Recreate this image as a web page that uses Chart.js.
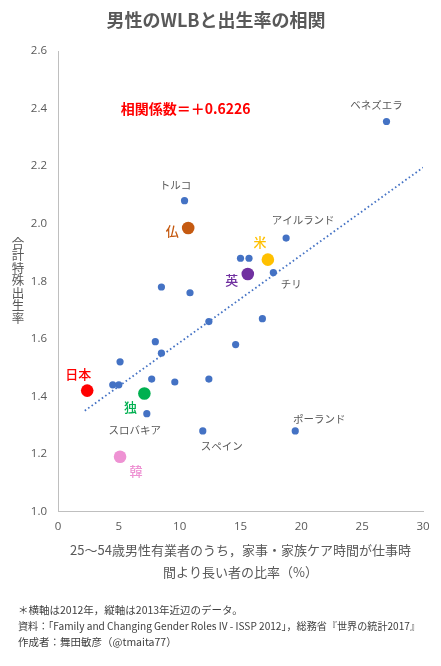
<!DOCTYPE html>
<html>
<head>
<meta charset="utf-8">
<script src="https://cdn.jsdelivr.net/npm/chart.js@4"></script>
<style>
  html, body { margin: 0; padding: 0; background: #fff; }
  #wrap { width: 441px; height: 666px; }
</style>
</head>
<body>
<div id="wrap"><canvas id="chart" width="441" height="666"></canvas></div>
<script>
// blue points: share of men whose housework/care time exceeds work time (%), total fertility rate
const otherNames = ["ベネズエラ", "トルコ", "アイルランド", "", "", "チリ", "", "", "", "",
                    "", "", "", "", "", "", "", "", "", "スロバキア", "スペイン", "ポーランド"];
const otherX = [27.0, 10.4, 18.75, 15.0, 15.7, 17.7, 8.5, 10.85, 12.4, 16.8,
                8.0, 14.6, 8.5, 5.1, 4.5, 5.0, 7.7, 9.6, 12.4, 7.3, 11.9, 19.5];
const otherY = [2.355, 2.08, 1.95, 1.88, 1.88, 1.83, 1.78, 1.76, 1.66, 1.67,
                1.59, 1.58, 1.55, 1.52, 1.44, 1.44, 1.46, 1.45, 1.46, 1.34, 1.28, 1.28];

// highlighted countries
const keyNames = ["日本", "仏", "米", "英", "独", "韓"];
const keyX = [2.4, 10.7, 17.25, 15.6, 7.1, 5.1];
const keyY = [1.42, 1.985, 1.875, 1.825, 1.41, 1.19];

// dotted trend line end points
const trendX = [2.2, 30];
const trendY = [1.35, 2.195];

const xTicks = [0, 5, 10, 15, 20, 25, 30];
const yTicks = [1.0, 1.2, 1.4, 1.6, 1.8, 2.0, 2.2, 2.4, 2.6];

const titleText = "男性のWLBと出生率の相関";
const corrText = "相関係数＝＋0.6226";
const yTitle = "合計特殊出生率";
const xTitle = ["25～54歳男性有業者のうち，家事・家族ケア時間が仕事時", "間より長い者の比率（%）"];
const notes = [
    "＊横軸は2012年，縦軸は2013年近辺のデータ。",
    "資料：「Family and Changing Gender Roles IV - ISSP 2012」，総務省『世界の統計2017』",
    "作成者：舞田敏彦（@tmaita77）"
];

// label styling (colour, offsets from point)
const keyColors = { "日本": "#FF0000", "仏": "#C55A11", "米": "#FFC000", "英": "#7030A0", "独": "#00B050", "韓": "#EE92D3" };
const labelOffsets = {
    "ベネズエラ": [-10, -16], "トルコ": [-9, -16], "アイルランド": [17, -18], "チリ": [18, 11],
    "スロバキア": [-12, 16], "スペイン": [19, 15], "ポーランド": [24, -12],
    "日本": [-9, -17], "仏": [-16, 3], "米": [-8, -18], "英": [-16, 6], "独": [-14, 14], "韓": [16, 14]
};

const JP = '"Noto Sans CJK JP", "Noto Sans", sans-serif';
const GREY = "#595959";

const toPts = (xs, ys) => xs.map((x, i) => ({ x: x, y: ys[i] }));

const textPlugin = {
    id: "texts",
    afterDatasetsDraw(chart) {
        const ctx = chart.ctx;
        const area = chart.chartArea;
        const sx = chart.scales.x, sy = chart.scales.y;
        ctx.save();
        ctx.textAlign = "center";
        ctx.textBaseline = "middle";

        // point labels
        const sets = [[0, otherNames], [1, keyNames]];
        sets.forEach(([di, names]) => {
            const meta = chart.getDatasetMeta(di);
            meta.data.forEach((pt, i) => {
                const name = names[i];
                if (!name) return;
                const off = labelOffsets[name] || [0, -14];
                if (di === 1) {
                    ctx.fillStyle = keyColors[name];
                    ctx.font = "500 13px " + JP;
                } else {
                    ctx.fillStyle = GREY;
                    ctx.font = "10.5px " + JP;
                }
                ctx.fillText(name, pt.x + off[0], pt.y + off[1]);
            });
        });

        // correlation
        ctx.textAlign = "left";
        ctx.fillStyle = "#FF0000";
        ctx.font = "bold 14px " + JP;
        ctx.fillText(corrText, sx.getPixelForValue(5.15), sy.getPixelForValue(2.4));

        // title
        ctx.textAlign = "center";
        ctx.fillStyle = GREY;
        ctx.font = "bold 18px " + JP;
        ctx.fillText(titleText, 216, 20);

        // y title, upright stacked characters
        ctx.font = "12.5px " + JP;
        const chars = Array.from(yTitle);
        chars.forEach((c, i) => ctx.fillText(c, 18, 243 + i * 12.5));

        // x title
        const cx = (area.left + area.right) / 2;
        ctx.font = "13px " + JP;
        ctx.fillText(xTitle[0], cx, 550);
        ctx.fillText(xTitle[1], cx, 572);

        // notes
        ctx.textAlign = "left";
        ctx.fillStyle = "#404040";
        ctx.font = "10.5px " + JP;
        notes.forEach((n, i) => ctx.fillText(n, 18, 610 + i * 16, 402));
        ctx.restore();
    }
};

new Chart(document.getElementById("chart"), {
    type: "scatter",
    data: {
        datasets: [
            {
                data: toPts(otherX, otherY),
                backgroundColor: "#4472C4",
                borderWidth: 0,
                pointRadius: 3.6,
                order: 1
            },
            {
                data: toPts(keyX, keyY),
                backgroundColor: keyNames.map(n => keyColors[n]),
                borderWidth: 0,
                pointRadius: 6.3,
                order: 0
            },
            {
                data: toPts(trendX, trendY),
                showLine: true,
                borderColor: "#4472C4",
                borderWidth: 1.8,
                borderDash: [1.6, 2.6],
                pointRadius: 0,
                order: 2
            }
        ]
    },
    options: {
        responsive: false,
        animation: false,
        layout: { padding: { top: 51, left: 0, right: 18, bottom: 0 } },
        plugins: { legend: { display: false }, tooltip: { enabled: false }, title: { display: false } },
        scales: {
            x: {
                type: "linear",
                min: 0,
                max: 30,
                afterBuildTicks: s => { s.ticks = xTicks.map(v => ({ value: v })); },
                afterFit: s => { s.height = 154.5; },
                grid: { display: false, drawTicks: false },
                border: { display: true, color: "#BFBFBF", width: 1 },
                ticks: { color: GREY, font: { family: "Open Sans", size: 11.5 }, padding: 8 }
            },
            y: {
                type: "linear",
                min: 1.0,
                max: 2.6,
                afterBuildTicks: s => { s.ticks = yTicks.map(v => ({ value: v })); },
                afterFit: s => { s.width = 58; },
                grid: { display: false, drawTicks: false },
                border: { display: true, color: "#BFBFBF", width: 1 },
                ticks: { color: GREY, font: { family: "Open Sans", size: 11.5 }, padding: 11,
                         callback: v => Number(v).toFixed(1) }
            }
        }
    },
    plugins: [textPlugin]
});
</script>
</body>
</html>
